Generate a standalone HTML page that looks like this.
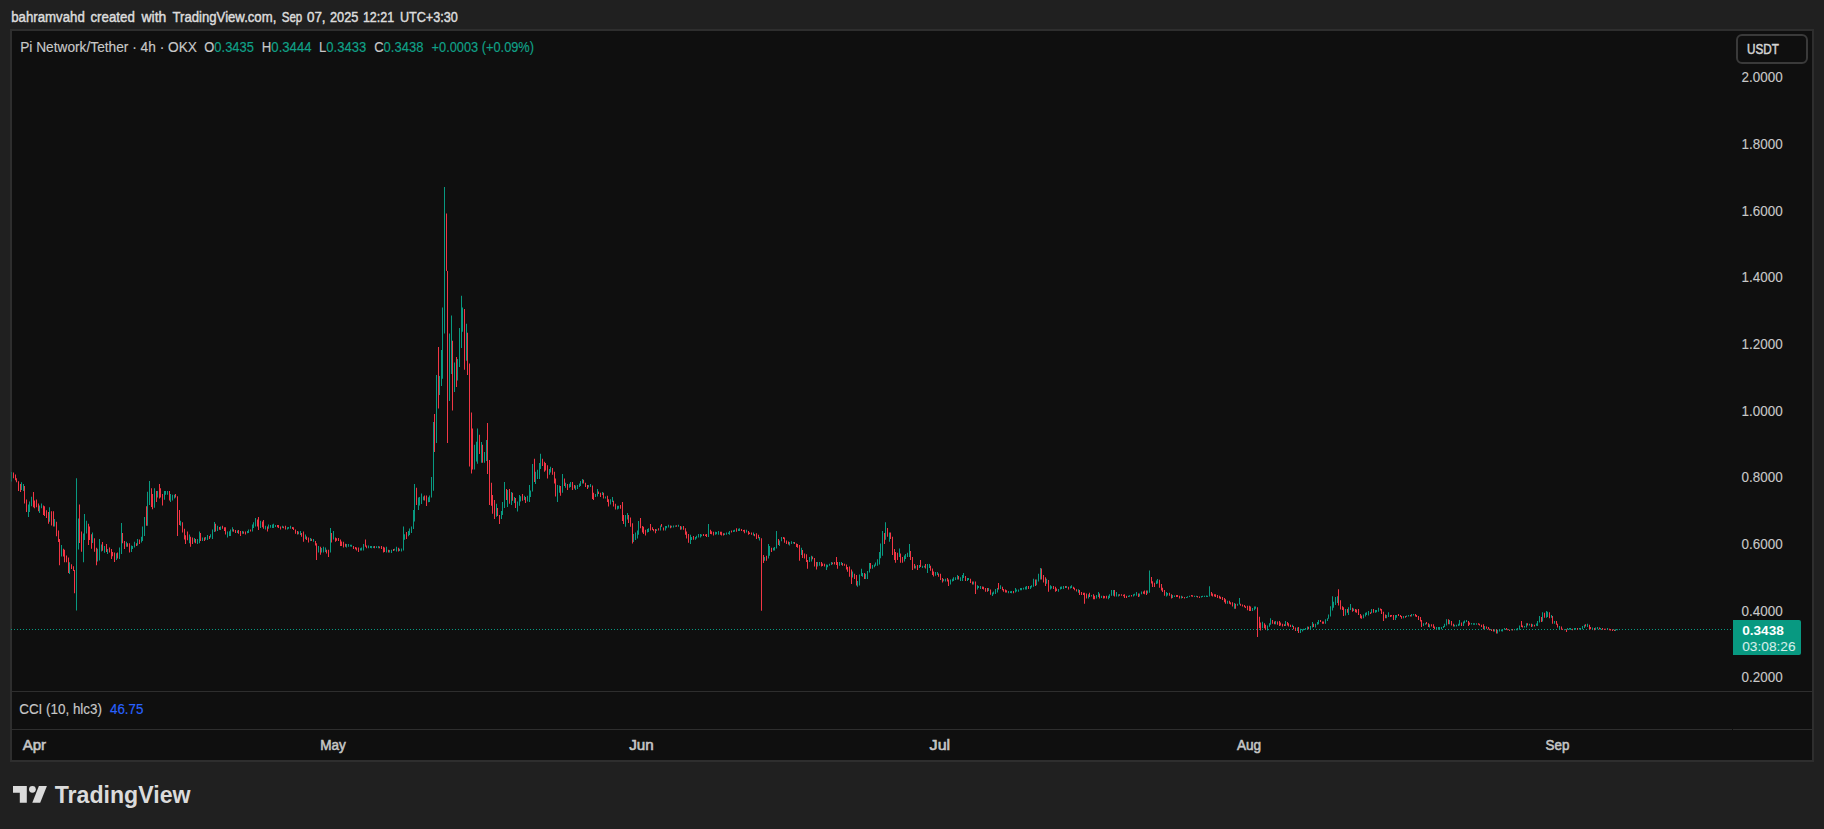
<!DOCTYPE html>
<html><head><meta charset="utf-8"><title>Pi Network/Tether chart</title>
<style>
html,body{margin:0;padding:0;background:#202020;width:1824px;height:829px;overflow:hidden;}
svg{position:absolute;left:0;top:0;display:block;}
.sans{font-family:"Liberation Sans","DejaVu Sans",sans-serif;}
.serif{font-family:"Liberation Serif","DejaVu Serif",serif;}
</style></head><body>
<svg width="1824" height="829" viewBox="0 0 1824 829">
<rect x="0" y="0" width="1824" height="829" fill="#202020"/>
<g class="sans" font-size="14" fill="#dcdcdc" stroke="#dcdcdc" stroke-width="0.45">
<text x="11.20" y="21.7" textLength="73.60" lengthAdjust="spacingAndGlyphs">bahramvahd</text>
<text x="90.48" y="21.7" textLength="44.32" lengthAdjust="spacingAndGlyphs">created</text>
<text x="141.50" y="21.7" textLength="24.80" lengthAdjust="spacingAndGlyphs">with</text>
<text x="172.48" y="21.7" textLength="103.84" lengthAdjust="spacingAndGlyphs">TradingView.com,</text>
<text x="281.70" y="21.7" textLength="20.60" lengthAdjust="spacingAndGlyphs">Sep</text>
<text x="306.94" y="21.7" textLength="18.66" lengthAdjust="spacingAndGlyphs">07,</text>
<text x="329.96" y="21.7" textLength="28.36" lengthAdjust="spacingAndGlyphs">2025</text>
<text x="362.92" y="21.7" textLength="31.36" lengthAdjust="spacingAndGlyphs">12:21</text>
<text x="399.92" y="21.7" textLength="57.88" lengthAdjust="spacingAndGlyphs">UTC+3:30</text>
</g>
<rect x="11" y="30" width="1802" height="731" fill="#0f0f0f" stroke="#2e2e2e" stroke-width="2"/>
<rect x="12" y="691" width="1800" height="1" fill="#2e2e2e"/>
<rect x="12" y="729" width="1720" height="1" fill="#2e2e2e"/>
<rect x="1733" y="729" width="79" height="1" fill="#2e2e2e"/>
<line x1="11" y1="629.5" x2="1732" y2="629.5" stroke="#089981" stroke-width="1" stroke-dasharray="1 2"/>
<path fill="#089981" d="M21 482.2h1v7.8h-1zM23 484.0h1v6.9h-1zM28 504.4h1v12.6h-1zM29 501.5h1v10.5h-1zM31 496.7h1v9.6h-1zM39 505.4h1v7.6h-1zM41 503.4h1v4.9h-1zM49 507.3h1v14.5h-1zM54 518.9h1v7.7h-1zM61 545.0h1v11.5h-1zM69 562.3h1v11.7h-1zM76 478.3h1v132.3h-1zM78 518.6h1v30.9h-1zM83 533.4h1v28.9h-1zM84 514.0h1v26.0h-1zM86 520.8h1v12.6h-1zM92 532.4h1v10.6h-1zM97 548.8h1v12.6h-1zM99 539.0h1v21.4h-1zM101 544.5h1v7.0h-1zM104 546.0h1v6.7h-1zM107 549.0h1v5.0h-1zM116 553.3h1v6.6h-1zM119 547.6h1v11.4h-1zM121 523.0h1v31.0h-1zM126 541.8h1v5.0h-1zM131 545.4h1v6.5h-1zM132 546.0h1v3.0h-1zM134 541.8h1v5.8h-1zM137 538.9h1v6.5h-1zM141 536.7h1v5.8h-1zM142 526.6h1v14.4h-1zM144 517.0h1v19.0h-1zM147 491.8h1v34.0h-1zM149 481.0h1v23.9h-1zM154 488.2h1v19.6h-1zM157 491.0h1v6.6h-1zM164 491.0h1v8.8h-1zM165 491.0h1v3.7h-1zM167 491.0h1v3.7h-1zM170 494.0h1v8.0h-1zM172 494.7h1v5.8h-1zM174 494.7h1v3.7h-1zM180 520.8h1v5.0h-1zM189 534.5h1v8.7h-1zM194 538.0h1v4.5h-1zM197 538.9h1v5.1h-1zM199 531.6h1v11.6h-1zM202 537.4h1v3.6h-1zM205 536.9h1v2.9h-1zM207 535.0h1v5.0h-1zM210 534.2h1v3.2h-1zM212 529.5h1v9.4h-1zM214 522.0h1v10.0h-1zM217 525.8h1v5.2h-1zM220 526.6h1v3.4h-1zM227 531.6h1v5.8h-1zM229 531.3h1v4.6h-1zM230 529.5h1v6.5h-1zM232 527.3h1v4.3h-1zM237 530.5h1v2.4h-1zM242 531.0h1v2.8h-1zM247 531.0h1v2.3h-1zM248 529.5h1v3.5h-1zM252 524.4h1v7.2h-1zM253 522.2h1v5.8h-1zM255 517.9h1v8.7h-1zM260 520.8h1v7.2h-1zM265 525.8h1v3.7h-1zM268 524.4h1v4.3h-1zM270 524.9h1v2.9h-1zM272 524.4h1v3.6h-1zM273 523.7h1v4.3h-1zM275 525.1h1v1.8h-1zM282 525.8h1v2.2h-1zM287 527.3h1v2.2h-1zM288 526.9h1v1.8h-1zM290 525.8h1v2.9h-1zM298 531.5h1v2.8h-1zM300 531.0h1v4.0h-1zM305 534.5h1v4.4h-1zM310 538.0h1v3.0h-1zM313 538.9h1v2.9h-1zM318 546.0h1v6.6h-1zM321 547.9h1v4.6h-1zM323 546.8h1v5.8h-1zM325 547.6h1v4.4h-1zM330 528.0h1v24.6h-1zM333 531.0h1v8.6h-1zM346 544.0h1v3.6h-1zM348 544.0h1v2.8h-1zM350 544.7h1v1.7h-1zM351 544.7h1v2.1h-1zM360 548.3h1v2.2h-1zM361 547.6h1v2.8h-1zM363 544.0h1v6.4h-1zM368 545.4h1v2.9h-1zM370 546.1h1v1.8h-1zM371 546.0h1v2.3h-1zM373 546.2h1v1.8h-1zM376 546.2h1v1.8h-1zM378 546.0h1v2.3h-1zM386 546.8h1v5.8h-1zM389 550.1h1v2.3h-1zM391 549.7h1v3.3h-1zM394 548.8h1v1.6h-1zM396 546.7h1v4.8h-1zM399 548.7h1v2.3h-1zM401 548.6h1v2.9h-1zM403 526.4h1v24.2h-1zM404 534.2h1v5.6h-1zM408 531.0h1v5.3h-1zM409 528.4h1v6.6h-1zM411 526.4h1v6.6h-1zM413 510.0h1v19.0h-1zM414 484.0h1v37.6h-1zM418 497.5h1v12.5h-1zM419 497.1h1v8.3h-1zM421 493.6h1v10.4h-1zM423 496.5h1v3.8h-1zM428 497.2h1v5.1h-1zM429 495.6h1v6.4h-1zM431 477.0h1v20.5h-1zM433 422.0h1v68.7h-1zM436 375.0h1v68.0h-1zM439 376.0h1v19.0h-1zM441 350.0h1v36.0h-1zM442 307.5h1v71.3h-1zM444 186.9h1v146.7h-1zM449 333.6h1v67.4h-1zM451 315.6h1v58.4h-1zM454 362.5h1v29.5h-1zM457 359.0h1v21.6h-1zM459 328.0h1v39.0h-1zM461 295.7h1v52.3h-1zM462 307.5h1v24.3h-1zM466 323.8h1v36.9h-1zM474 444.8h1v24.7h-1zM476 441.7h1v19.8h-1zM477 428.5h1v35.2h-1zM481 442.0h1v20.7h-1zM484 452.0h1v10.8h-1zM486 440.0h1v21.0h-1zM496 503.7h1v13.0h-1zM501 511.0h1v7.9h-1zM502 502.0h1v13.0h-1zM504 482.0h1v26.0h-1zM507 490.0h1v17.0h-1zM511 492.0h1v13.0h-1zM514 497.0h1v6.0h-1zM517 501.5h1v10.1h-1zM519 495.0h1v10.8h-1zM520 496.2h1v5.4h-1zM524 495.7h1v4.3h-1zM527 495.7h1v5.8h-1zM529 485.0h1v17.0h-1zM530 490.6h1v6.4h-1zM532 463.9h1v27.5h-1zM535 471.8h1v12.2h-1zM537 469.7h1v9.3h-1zM539 463.0h1v16.0h-1zM540 453.7h1v15.3h-1zM549 469.0h1v5.7h-1zM550 466.8h1v5.8h-1zM557 484.9h1v17.1h-1zM559 485.6h1v7.2h-1zM562 474.0h1v18.8h-1zM565 482.7h1v5.1h-1zM569 483.8h1v4.0h-1zM570 482.0h1v5.0h-1zM575 485.6h1v4.4h-1zM577 485.0h1v4.0h-1zM579 483.5h1v3.5h-1zM580 481.0h1v5.0h-1zM582 479.0h1v4.4h-1zM588 485.1h1v2.4h-1zM590 484.0h1v3.0h-1zM595 494.0h1v3.0h-1zM597 489.0h1v7.4h-1zM602 492.0h1v3.0h-1zM605 496.4h1v2.2h-1zM610 499.3h1v5.1h-1zM612 497.0h1v5.0h-1zM617 505.8h1v3.7h-1zM618 505.8h1v3.0h-1zM625 515.0h1v11.8h-1zM627 513.0h1v6.6h-1zM633 534.0h1v8.0h-1zM635 532.6h1v7.3h-1zM637 530.4h1v8.0h-1zM638 521.0h1v13.8h-1zM647 529.0h1v3.6h-1zM648 528.3h1v3.7h-1zM656 529.3h1v1.8h-1zM660 525.4h1v5.0h-1zM665 526.0h1v4.4h-1zM666 526.0h1v2.2h-1zM668 524.7h1v2.8h-1zM671 525.8h1v1.7h-1zM673 525.4h1v2.1h-1zM675 525.4h1v1.4h-1zM678 524.7h1v2.1h-1zM681 526.4h1v3.0h-1zM690 534.7h1v9.3h-1zM691 537.1h1v3.0h-1zM695 537.0h1v2.8h-1zM696 535.8h1v2.6h-1zM698 534.0h1v3.6h-1zM700 534.0h1v3.6h-1zM701 534.6h1v1.6h-1zM708 523.9h1v13.1h-1zM715 531.8h1v2.9h-1zM716 531.9h1v2.3h-1zM718 531.0h1v3.7h-1zM724 533.2h1v1.7h-1zM726 532.6h1v2.1h-1zM728 532.4h1v1.7h-1zM729 531.0h1v3.7h-1zM733 530.3h1v1.7h-1zM734 529.7h1v2.1h-1zM738 528.7h1v2.2h-1zM739 528.2h1v2.8h-1zM746 529.7h1v2.9h-1zM753 532.6h1v2.9h-1zM759 537.0h1v3.5h-1zM764 557.0h1v3.8h-1zM768 544.0h1v14.6h-1zM769 546.0h1v9.7h-1zM773 547.8h1v2.8h-1zM774 547.0h1v3.6h-1zM776 531.0h1v17.5h-1zM779 540.5h1v5.5h-1zM781 537.0h1v4.2h-1zM789 542.0h1v3.6h-1zM791 541.2h1v2.8h-1zM793 542.0h1v1.6h-1zM801 547.8h1v7.2h-1zM809 557.0h1v5.0h-1zM811 555.7h1v5.8h-1zM817 562.0h1v4.6h-1zM819 562.0h1v3.8h-1zM826 564.4h1v5.6h-1zM827 564.8h1v2.5h-1zM829 563.7h1v2.1h-1zM831 562.0h1v3.0h-1zM839 562.0h1v3.8h-1zM841 562.0h1v3.0h-1zM852 571.6h1v5.8h-1zM857 581.0h1v5.8h-1zM859 574.5h1v10.9h-1zM861 568.7h1v7.3h-1zM862 573.0h1v3.7h-1zM865 573.8h1v5.1h-1zM867 571.0h1v7.9h-1zM869 563.0h1v9.4h-1zM872 565.0h1v3.7h-1zM874 564.4h1v2.9h-1zM875 562.5h1v3.3h-1zM877 559.3h1v6.5h-1zM879 552.0h1v12.4h-1zM880 543.4h1v14.8h-1zM882 531.0h1v24.7h-1zM885 522.3h1v17.4h-1zM889 532.4h1v9.4h-1zM899 548.4h1v8.6h-1zM904 555.6h1v5.8h-1zM905 554.0h1v5.0h-1zM907 552.7h1v4.3h-1zM909 544.0h1v13.0h-1zM915 565.7h1v2.9h-1zM919 565.0h1v2.9h-1zM922 565.7h1v2.2h-1zM924 565.7h1v1.8h-1zM927 564.0h1v9.0h-1zM929 564.0h1v3.9h-1zM935 572.0h1v3.8h-1zM937 572.0h1v3.0h-1zM943 579.0h1v2.3h-1zM945 578.7h1v2.9h-1zM950 579.5h1v5.0h-1zM952 578.7h1v2.9h-1zM953 577.3h1v3.7h-1zM955 577.3h1v2.7h-1zM957 575.0h1v4.5h-1zM960 577.3h1v3.7h-1zM962 575.0h1v6.0h-1zM963 573.0h1v5.0h-1zM967 578.0h1v3.0h-1zM968 578.0h1v2.0h-1zM973 581.6h1v2.9h-1zM977 585.3h1v4.3h-1zM978 586.0h1v2.0h-1zM980 586.0h1v2.9h-1zM988 588.0h1v3.0h-1zM992 592.5h1v3.5h-1zM993 591.5h1v2.8h-1zM995 588.9h1v5.1h-1zM997 588.0h1v4.5h-1zM1000 585.3h1v3.6h-1zM1008 591.0h1v2.2h-1zM1010 591.2h1v1.8h-1zM1011 591.0h1v2.2h-1zM1015 588.0h1v4.5h-1zM1016 589.6h1v1.8h-1zM1018 589.6h1v2.2h-1zM1020 588.0h1v2.3h-1zM1021 588.0h1v2.3h-1zM1023 587.7h1v1.8h-1zM1025 586.7h1v2.9h-1zM1026 586.0h1v3.6h-1zM1030 586.0h1v2.9h-1zM1031 585.3h1v2.1h-1zM1033 578.7h1v8.0h-1zM1036 579.5h1v5.8h-1zM1038 573.7h1v7.9h-1zM1040 567.9h1v11.6h-1zM1046 578.7h1v5.1h-1zM1050 585.3h1v4.3h-1zM1051 586.3h1v2.3h-1zM1058 588.9h1v2.9h-1zM1060 586.7h1v2.9h-1zM1061 586.6h1v2.3h-1zM1063 586.0h1v2.9h-1zM1066 586.0h1v2.0h-1zM1070 586.3h1v2.2h-1zM1071 585.3h1v2.7h-1zM1078 589.2h1v3.6h-1zM1088 594.3h1v4.3h-1zM1091 595.0h1v1.4h-1zM1096 595.0h1v3.6h-1zM1098 592.0h1v5.0h-1zM1101 595.7h1v2.3h-1zM1108 595.7h1v3.6h-1zM1109 594.3h1v3.7h-1zM1111 590.0h1v5.7h-1zM1113 590.0h1v5.7h-1zM1116 592.0h1v4.4h-1zM1118 594.3h1v2.1h-1zM1128 595.7h1v1.3h-1zM1129 595.3h1v1.5h-1zM1133 594.3h1v2.1h-1zM1134 593.8h1v1.7h-1zM1136 592.0h1v3.7h-1zM1139 593.5h1v2.9h-1zM1141 591.4h1v2.9h-1zM1147 590.6h1v2.9h-1zM1149 570.4h1v22.4h-1zM1156 580.5h1v3.5h-1zM1157 579.0h1v4.4h-1zM1166 592.0h1v4.4h-1zM1167 593.1h1v2.3h-1zM1172 595.0h1v3.0h-1zM1174 595.5h1v1.6h-1zM1181 595.7h1v2.9h-1zM1186 597.0h1v1.0h-1zM1187 596.2h1v1.5h-1zM1189 595.7h1v1.3h-1zM1194 595.7h1v1.3h-1zM1196 595.7h1v1.3h-1zM1201 596.0h1v1.5h-1zM1202 595.7h1v1.3h-1zM1204 595.7h1v1.3h-1zM1206 595.6h1v1.5h-1zM1207 595.7h1v1.3h-1zM1209 586.3h1v10.1h-1zM1227 600.8h1v2.9h-1zM1234 603.0h1v5.7h-1zM1237 603.7h1v2.1h-1zM1239 598.0h1v6.4h-1zM1252 608.0h1v3.0h-1zM1254 606.6h1v3.6h-1zM1255 606.6h1v2.1h-1zM1262 621.8h1v6.5h-1zM1267 625.4h1v5.0h-1zM1269 623.2h1v3.6h-1zM1270 618.2h1v6.6h-1zM1275 621.0h1v3.3h-1zM1285 621.0h1v5.0h-1zM1292 624.8h1v2.2h-1zM1297 627.6h1v3.3h-1zM1300 628.7h1v4.3h-1zM1302 629.2h1v2.2h-1zM1303 628.7h1v1.6h-1zM1305 628.0h1v1.8h-1zM1307 626.5h1v3.3h-1zM1310 626.0h1v3.8h-1zM1312 622.0h1v5.6h-1zM1315 623.7h1v3.9h-1zM1317 622.0h1v2.8h-1zM1318 619.9h1v4.4h-1zM1325 619.3h1v4.4h-1zM1327 618.2h1v2.8h-1zM1328 614.4h1v4.4h-1zM1330 606.2h1v10.4h-1zM1332 596.3h1v14.3h-1zM1333 601.8h1v6.0h-1zM1335 596.9h1v8.1h-1zM1337 596.3h1v6.6h-1zM1345 608.9h1v6.6h-1zM1348 607.3h1v7.7h-1zM1350 604.0h1v6.0h-1zM1353 608.4h1v2.7h-1zM1363 614.4h1v3.8h-1zM1365 612.8h1v3.8h-1zM1366 612.2h1v2.8h-1zM1368 611.1h1v4.4h-1zM1371 608.9h1v4.4h-1zM1375 610.0h1v2.8h-1zM1376 610.0h1v2.2h-1zM1378 607.8h1v3.9h-1zM1386 615.0h1v3.2h-1zM1388 612.2h1v4.9h-1zM1395 615.0h1v4.9h-1zM1396 615.0h1v2.7h-1zM1403 616.0h1v2.2h-1zM1406 615.5h1v1.6h-1zM1408 615.0h1v1.6h-1zM1411 613.9h1v2.7h-1zM1413 613.9h1v1.6h-1zM1423 623.2h1v2.8h-1zM1425 623.2h1v1.6h-1zM1429 624.3h1v3.3h-1zM1436 627.0h1v2.8h-1zM1438 627.0h1v2.8h-1zM1439 627.0h1v2.2h-1zM1441 627.0h1v2.2h-1zM1443 626.0h1v2.0h-1zM1444 623.7h1v3.3h-1zM1446 619.3h1v6.1h-1zM1449 619.9h1v4.4h-1zM1454 624.8h1v1.7h-1zM1456 624.8h1v1.7h-1zM1458 623.7h1v2.3h-1zM1459 619.9h1v5.5h-1zM1463 621.5h1v4.5h-1zM1464 620.4h1v2.8h-1zM1466 619.9h1v2.1h-1zM1471 623.1h1v1.5h-1zM1473 623.2h1v1.6h-1zM1474 623.2h1v1.5h-1zM1476 623.2h1v1.6h-1zM1484 626.0h1v3.8h-1zM1494 629.2h1v2.2h-1zM1497 629.8h1v3.8h-1zM1499 629.2h1v2.2h-1zM1501 629.4h1v1.8h-1zM1502 629.2h1v2.2h-1zM1504 628.0h1v1.8h-1zM1511 629.2h1v1.1h-1zM1514 629.2h1v1.1h-1zM1516 628.7h1v1.6h-1zM1517 628.0h1v2.3h-1zM1519 625.4h1v4.4h-1zM1524 626.0h1v1.6h-1zM1526 623.2h1v4.4h-1zM1529 623.7h1v1.7h-1zM1532 624.3h1v2.2h-1zM1536 623.5h1v2.2h-1zM1537 621.0h1v5.0h-1zM1539 616.0h1v6.6h-1zM1542 612.2h1v9.3h-1zM1546 611.1h1v6.6h-1zM1547 611.7h1v5.4h-1zM1551 615.0h1v2.7h-1zM1554 621.0h1v2.7h-1zM1559 626.0h1v3.8h-1zM1564 629.2h1v1.0h-1zM1567 628.0h1v1.8h-1zM1569 628.1h1v1.5h-1zM1570 628.0h1v1.8h-1zM1574 628.0h1v1.8h-1zM1575 628.0h1v1.8h-1zM1579 628.1h1v1.5h-1zM1580 628.0h1v1.8h-1zM1582 626.0h1v3.2h-1zM1584 624.8h1v3.2h-1zM1587 623.7h1v3.3h-1zM1592 627.6h1v2.2h-1zM1595 627.6h1v1.6h-1zM1597 627.0h1v2.2h-1zM1600 627.9h1v1.5h-1zM1607 628.0h1v1.8h-1zM1615 629.2h1v1.7h-1zM1617 629.2h1v1.0h-1z"/>
<path fill="#f23645" d="M13 472.5h1v5.8h-1zM15 474.5h1v5.8h-1zM16 478.3h1v3.9h-1zM18 481.2h1v9.7h-1zM20 484.0h1v7.9h-1zM24 486.0h1v17.4h-1zM26 499.6h1v12.4h-1zM33 491.9h1v15.4h-1zM34 500.5h1v7.8h-1zM36 499.6h1v7.7h-1zM38 503.4h1v7.8h-1zM43 505.4h1v9.6h-1zM44 506.3h1v9.7h-1zM46 510.2h1v7.8h-1zM48 512.0h1v11.7h-1zM51 511.2h1v14.4h-1zM53 511.2h1v15.4h-1zM56 521.8h1v14.5h-1zM58 530.5h1v11.5h-1zM59 539.0h1v26.2h-1zM63 548.8h1v7.7h-1zM64 549.8h1v12.5h-1zM66 555.6h1v6.7h-1zM68 557.5h1v15.5h-1zM71 564.2h1v4.8h-1zM73 566.2h1v4.8h-1zM74 570.0h1v23.2h-1zM79 504.4h1v38.6h-1zM81 531.4h1v20.3h-1zM88 523.7h1v21.3h-1zM89 526.6h1v13.4h-1zM91 534.3h1v14.5h-1zM94 538.2h1v13.5h-1zM96 547.8h1v17.4h-1zM102 542.0h1v8.7h-1zM106 544.0h1v7.9h-1zM109 547.6h1v5.0h-1zM111 549.0h1v10.0h-1zM112 551.9h1v4.3h-1zM114 552.6h1v9.4h-1zM117 552.6h1v5.8h-1zM122 533.0h1v10.2h-1zM124 541.0h1v8.0h-1zM127 543.2h1v3.6h-1zM129 543.2h1v9.4h-1zM136 543.2h1v2.8h-1zM139 539.6h1v4.4h-1zM146 506.3h1v19.5h-1zM151 488.2h1v18.8h-1zM152 494.0h1v15.2h-1zM156 491.0h1v11.0h-1zM159 483.9h1v14.5h-1zM160 488.2h1v9.4h-1zM162 494.0h1v11.6h-1zM169 491.0h1v9.5h-1zM175 494.0h1v3.6h-1zM177 496.2h1v39.8h-1zM179 510.0h1v15.0h-1zM182 522.2h1v10.2h-1zM184 528.7h1v10.9h-1zM185 535.3h1v8.7h-1zM187 531.6h1v8.7h-1zM190 536.7h1v10.1h-1zM192 537.4h1v6.6h-1zM195 538.9h1v4.3h-1zM200 533.0h1v8.0h-1zM204 537.4h1v3.6h-1zM209 536.0h1v2.9h-1zM215 523.7h1v7.9h-1zM219 527.0h1v2.7h-1zM222 525.8h1v2.9h-1zM224 527.2h1v3.7h-1zM225 527.3h1v7.2h-1zM233 529.3h1v2.4h-1zM235 530.0h1v3.0h-1zM238 530.0h1v3.8h-1zM240 531.0h1v5.0h-1zM243 531.6h1v2.2h-1zM245 531.6h1v2.9h-1zM250 529.5h1v2.1h-1zM257 519.4h1v7.0h-1zM258 517.0h1v13.0h-1zM262 521.5h1v5.8h-1zM263 520.0h1v8.7h-1zM267 526.6h1v5.0h-1zM277 525.0h1v2.3h-1zM278 525.0h1v3.0h-1zM280 526.6h1v2.9h-1zM283 526.4h1v1.8h-1zM285 525.8h1v3.7h-1zM292 526.9h1v2.2h-1zM293 527.3h1v2.7h-1zM295 529.5h1v4.3h-1zM297 531.0h1v3.5h-1zM301 533.0h1v3.7h-1zM303 531.6h1v10.2h-1zM306 536.6h1v3.5h-1zM308 537.4h1v5.1h-1zM311 538.8h1v2.3h-1zM315 541.0h1v4.4h-1zM316 543.2h1v16.7h-1zM320 546.8h1v8.0h-1zM326 549.8h1v3.6h-1zM328 549.7h1v7.3h-1zM331 533.0h1v9.5h-1zM335 537.4h1v4.4h-1zM336 538.3h1v2.4h-1zM338 538.0h1v3.0h-1zM340 539.6h1v6.4h-1zM341 541.4h1v4.6h-1zM343 541.8h1v5.8h-1zM345 543.8h1v2.9h-1zM353 546.0h1v3.0h-1zM355 547.1h1v2.2h-1zM356 547.6h1v2.8h-1zM358 547.6h1v4.4h-1zM365 539.6h1v7.2h-1zM366 545.4h1v2.9h-1zM374 546.0h1v2.3h-1zM379 546.4h1v1.8h-1zM381 546.0h1v3.0h-1zM383 546.8h1v5.8h-1zM384 547.4h1v4.6h-1zM388 549.7h1v2.9h-1zM393 549.0h1v2.0h-1zM398 547.7h1v3.8h-1zM406 532.0h1v7.0h-1zM416 487.8h1v17.2h-1zM424 495.6h1v4.8h-1zM426 495.6h1v10.4h-1zM434 414.0h1v38.0h-1zM438 347.0h1v61.6h-1zM446 213.5h1v57.5h-1zM447 271.0h1v172.0h-1zM452 340.8h1v69.6h-1zM456 357.0h1v30.0h-1zM464 309.0h1v60.7h-1zM467 332.7h1v42.3h-1zM469 363.4h1v103.2h-1zM471 412.5h1v60.9h-1zM472 428.5h1v41.0h-1zM479 434.8h1v19.2h-1zM482 444.8h1v18.0h-1zM487 423.0h1v51.0h-1zM489 460.0h1v45.0h-1zM491 482.7h1v23.1h-1zM492 495.0h1v18.8h-1zM494 500.0h1v18.9h-1zM497 508.0h1v8.0h-1zM499 515.0h1v9.0h-1zM506 489.0h1v11.0h-1zM509 489.0h1v14.7h-1zM512 492.8h1v8.0h-1zM515 498.0h1v10.0h-1zM522 494.0h1v6.8h-1zM525 497.0h1v6.0h-1zM534 458.8h1v23.2h-1zM542 458.8h1v7.2h-1zM544 461.7h1v10.1h-1zM545 463.0h1v7.4h-1zM547 465.3h1v13.1h-1zM552 468.0h1v6.7h-1zM554 471.8h1v11.6h-1zM555 478.4h1v18.0h-1zM560 486.0h1v9.7h-1zM564 478.4h1v7.6h-1zM567 484.0h1v6.0h-1zM572 482.0h1v8.0h-1zM574 485.1h1v3.5h-1zM583 479.8h1v3.6h-1zM585 482.7h1v4.3h-1zM587 485.0h1v4.0h-1zM592 485.6h1v13.4h-1zM593 492.8h1v7.2h-1zM598 491.4h1v2.6h-1zM600 492.8h1v4.2h-1zM603 492.8h1v5.8h-1zM607 495.7h1v6.3h-1zM608 499.3h1v7.3h-1zM613 500.8h1v5.8h-1zM615 503.7h1v5.8h-1zM620 505.0h1v3.7h-1zM622 502.0h1v19.0h-1zM623 515.0h1v9.0h-1zM628 515.0h1v8.0h-1zM630 517.4h1v9.4h-1zM632 523.2h1v20.3h-1zM640 518.0h1v10.3h-1zM642 526.0h1v6.6h-1zM643 526.8h1v7.2h-1zM645 529.7h1v5.8h-1zM650 524.0h1v6.4h-1zM652 527.2h1v2.9h-1zM653 529.0h1v2.2h-1zM655 529.0h1v4.3h-1zM658 528.3h1v2.1h-1zM661 524.0h1v2.8h-1zM663 527.5h1v2.9h-1zM670 525.4h1v2.9h-1zM676 525.2h1v1.5h-1zM680 526.0h1v3.7h-1zM683 526.0h1v3.7h-1zM685 528.2h1v6.5h-1zM686 531.5h1v6.9h-1zM688 534.0h1v8.7h-1zM693 536.0h1v3.8h-1zM703 534.0h1v2.0h-1zM705 534.5h1v1.6h-1zM706 534.0h1v3.0h-1zM710 529.7h1v4.3h-1zM711 531.3h1v3.0h-1zM713 531.8h1v3.7h-1zM720 531.8h1v3.0h-1zM721 531.8h1v3.7h-1zM723 533.3h1v2.2h-1zM731 530.4h1v2.2h-1zM736 528.2h1v3.6h-1zM741 529.0h1v2.0h-1zM743 530.0h1v1.6h-1zM744 529.7h1v3.6h-1zM748 531.0h1v3.7h-1zM749 532.4h1v1.7h-1zM751 532.6h1v2.1h-1zM754 533.9h1v2.3h-1zM756 533.3h1v5.7h-1zM758 534.7h1v3.6h-1zM761 538.3h1v72.4h-1zM763 555.0h1v8.0h-1zM766 555.7h1v5.1h-1zM771 547.8h1v4.2h-1zM778 539.0h1v5.9h-1zM783 537.0h1v2.0h-1zM784 537.6h1v5.1h-1zM786 540.5h1v3.5h-1zM788 541.6h1v2.8h-1zM794 542.0h1v2.0h-1zM796 543.4h1v3.6h-1zM797 544.0h1v3.8h-1zM799 544.9h1v15.9h-1zM802 550.0h1v7.9h-1zM804 553.5h1v5.1h-1zM806 554.3h1v7.7h-1zM807 560.0h1v8.7h-1zM812 556.4h1v2.9h-1zM814 557.9h1v8.7h-1zM816 562.0h1v7.5h-1zM821 562.0h1v4.6h-1zM822 563.6h1v2.3h-1zM824 563.7h1v2.9h-1zM832 562.4h1v1.9h-1zM834 562.0h1v2.4h-1zM836 557.0h1v8.0h-1zM837 562.0h1v6.7h-1zM842 563.0h1v2.8h-1zM844 563.7h1v2.1h-1zM846 564.4h1v5.1h-1zM847 567.0h1v4.7h-1zM849 566.6h1v10.1h-1zM851 569.5h1v14.5h-1zM854 573.8h1v5.1h-1zM856 575.0h1v10.4h-1zM864 573.0h1v5.9h-1zM870 563.0h1v5.7h-1zM884 533.0h1v11.0h-1zM887 528.0h1v8.8h-1zM890 532.4h1v6.6h-1zM892 536.8h1v18.1h-1zM894 549.0h1v11.0h-1zM895 552.0h1v10.8h-1zM897 552.7h1v7.3h-1zM900 553.4h1v9.4h-1zM902 557.0h1v5.8h-1zM910 551.0h1v9.0h-1zM912 557.0h1v13.0h-1zM914 564.0h1v4.6h-1zM917 565.0h1v5.0h-1zM920 560.0h1v7.0h-1zM925 564.0h1v4.6h-1zM930 565.7h1v5.1h-1zM932 568.6h1v6.4h-1zM933 571.5h1v5.1h-1zM938 573.5h1v3.3h-1zM940 573.7h1v6.3h-1zM942 578.0h1v4.4h-1zM947 578.0h1v3.6h-1zM948 579.5h1v6.5h-1zM958 576.0h1v3.5h-1zM965 576.0h1v5.0h-1zM970 578.7h1v4.3h-1zM972 581.6h1v2.9h-1zM975 581.6h1v12.4h-1zM982 586.6h1v2.3h-1zM983 586.7h1v2.9h-1zM985 588.0h1v3.8h-1zM987 588.0h1v3.8h-1zM990 589.6h1v5.1h-1zM998 583.0h1v6.6h-1zM1002 586.7h1v3.6h-1zM1003 588.9h1v2.9h-1zM1005 589.6h1v2.9h-1zM1006 590.3h1v2.2h-1zM1013 591.0h1v2.2h-1zM1028 586.0h1v2.9h-1zM1035 579.5h1v6.5h-1zM1041 568.6h1v10.9h-1zM1043 575.0h1v7.4h-1zM1045 577.3h1v8.7h-1zM1048 580.0h1v11.8h-1zM1053 586.0h1v2.9h-1zM1055 586.7h1v5.1h-1zM1056 588.6h1v2.3h-1zM1065 586.0h1v2.0h-1zM1068 586.7h1v2.9h-1zM1073 586.7h1v2.2h-1zM1074 587.8h1v2.5h-1zM1076 589.2h1v2.2h-1zM1079 590.0h1v5.0h-1zM1081 592.0h1v3.0h-1zM1083 592.8h1v2.2h-1zM1084 592.8h1v10.9h-1zM1086 593.5h1v5.1h-1zM1089 592.8h1v4.2h-1zM1093 594.3h1v5.0h-1zM1094 595.7h1v3.6h-1zM1099 593.5h1v5.1h-1zM1103 595.7h1v2.9h-1zM1104 596.0h1v2.3h-1zM1106 595.7h1v2.9h-1zM1114 590.0h1v6.4h-1zM1119 594.3h1v1.4h-1zM1121 594.3h1v1.4h-1zM1123 594.8h1v1.5h-1zM1124 594.3h1v3.7h-1zM1126 595.7h1v2.3h-1zM1131 595.0h1v1.4h-1zM1138 593.5h1v3.5h-1zM1143 591.5h1v2.3h-1zM1144 590.6h1v3.7h-1zM1146 590.6h1v4.4h-1zM1151 577.0h1v6.4h-1zM1152 581.2h1v5.8h-1zM1154 582.7h1v4.3h-1zM1159 579.8h1v8.0h-1zM1161 584.0h1v6.6h-1zM1162 587.8h1v4.2h-1zM1164 590.0h1v5.7h-1zM1169 592.8h1v2.9h-1zM1171 594.3h1v4.3h-1zM1176 595.0h1v2.0h-1zM1177 595.0h1v2.0h-1zM1179 595.7h1v2.9h-1zM1182 596.4h1v1.6h-1zM1184 597.0h1v1.6h-1zM1191 595.0h1v1.4h-1zM1192 595.3h1v1.5h-1zM1197 596.0h1v1.5h-1zM1199 596.4h1v1.6h-1zM1211 592.0h1v3.7h-1zM1212 593.5h1v2.9h-1zM1214 594.2h1v2.2h-1zM1215 594.3h1v2.7h-1zM1217 595.0h1v3.0h-1zM1219 595.7h1v2.9h-1zM1220 596.7h1v2.3h-1zM1222 597.0h1v3.0h-1zM1224 598.0h1v4.2h-1zM1225 599.3h1v4.4h-1zM1229 600.8h1v2.9h-1zM1230 602.2h1v2.3h-1zM1232 602.2h1v4.4h-1zM1235 603.7h1v5.0h-1zM1240 603.7h1v2.1h-1zM1242 604.4h1v2.2h-1zM1244 605.0h1v2.3h-1zM1245 606.2h1v1.8h-1zM1247 605.8h1v4.4h-1zM1249 605.8h1v5.2h-1zM1250 606.6h1v4.4h-1zM1257 607.3h1v29.7h-1zM1259 616.7h1v11.6h-1zM1260 622.5h1v7.9h-1zM1264 623.2h1v5.1h-1zM1265 624.7h1v5.0h-1zM1272 619.9h1v3.8h-1zM1274 621.5h1v2.8h-1zM1277 621.5h1v3.3h-1zM1279 621.0h1v5.0h-1zM1280 622.6h1v2.8h-1zM1282 623.7h1v2.8h-1zM1284 624.3h1v1.7h-1zM1287 622.0h1v3.4h-1zM1288 623.2h1v3.3h-1zM1290 624.8h1v2.2h-1zM1293 626.0h1v3.2h-1zM1295 627.6h1v3.3h-1zM1298 627.0h1v6.0h-1zM1308 626.7h1v2.6h-1zM1313 623.7h1v3.3h-1zM1320 619.9h1v2.1h-1zM1322 621.5h1v2.2h-1zM1323 621.5h1v2.2h-1zM1338 589.2h1v16.4h-1zM1340 600.2h1v9.3h-1zM1342 606.2h1v3.8h-1zM1343 607.3h1v8.7h-1zM1347 608.9h1v3.9h-1zM1352 607.8h1v3.9h-1zM1355 608.9h1v3.3h-1zM1356 609.5h1v3.3h-1zM1358 608.9h1v6.1h-1zM1360 613.9h1v4.3h-1zM1361 615.5h1v3.3h-1zM1370 612.2h1v1.7h-1zM1373 608.9h1v3.9h-1zM1380 608.4h1v2.2h-1zM1381 608.9h1v5.0h-1zM1383 611.7h1v9.3h-1zM1385 614.4h1v3.8h-1zM1390 615.0h1v2.1h-1zM1391 615.0h1v1.6h-1zM1393 615.0h1v4.9h-1zM1398 613.9h1v2.1h-1zM1400 615.0h1v2.1h-1zM1401 616.0h1v2.8h-1zM1405 616.0h1v1.7h-1zM1410 615.0h1v1.6h-1zM1415 613.9h1v2.7h-1zM1416 615.0h1v2.1h-1zM1418 616.0h1v3.9h-1zM1420 617.1h1v4.4h-1zM1421 619.9h1v7.1h-1zM1426 622.0h1v2.3h-1zM1428 623.2h1v3.8h-1zM1431 624.3h1v2.2h-1zM1433 624.3h1v3.7h-1zM1434 626.5h1v2.7h-1zM1448 619.3h1v5.0h-1zM1451 621.0h1v4.4h-1zM1453 623.7h1v2.8h-1zM1461 622.6h1v3.4h-1zM1468 621.0h1v5.0h-1zM1469 622.6h1v2.2h-1zM1478 623.2h1v1.6h-1zM1479 623.7h1v1.7h-1zM1481 624.8h1v2.2h-1zM1483 624.3h1v4.9h-1zM1486 626.5h1v2.2h-1zM1488 627.0h1v2.2h-1zM1489 628.7h1v1.6h-1zM1491 629.2h1v1.7h-1zM1493 629.2h1v2.2h-1zM1496 629.2h1v4.4h-1zM1506 628.0h1v1.8h-1zM1507 629.2h1v1.1h-1zM1509 629.8h1v1.1h-1zM1512 629.0h1v1.5h-1zM1521 621.0h1v6.0h-1zM1522 625.4h1v2.2h-1zM1527 623.2h1v2.2h-1zM1531 623.7h1v3.3h-1zM1534 624.8h1v1.7h-1zM1541 617.1h1v4.9h-1zM1544 612.8h1v4.9h-1zM1549 612.2h1v6.0h-1zM1552 616.0h1v7.7h-1zM1556 621.0h1v3.8h-1zM1557 623.7h1v3.9h-1zM1561 626.5h1v3.3h-1zM1562 628.7h1v1.1h-1zM1566 629.2h1v2.8h-1zM1572 628.7h1v1.6h-1zM1577 628.0h1v1.8h-1zM1585 624.3h1v2.2h-1zM1589 624.8h1v4.4h-1zM1590 627.0h1v2.2h-1zM1594 628.0h1v2.3h-1zM1599 627.6h1v1.6h-1zM1602 628.0h1v1.8h-1zM1604 628.7h1v1.1h-1zM1605 628.7h1v1.1h-1zM1609 628.7h1v1.6h-1zM1610 629.0h1v1.5h-1zM1612 629.2h1v1.7h-1zM1614 629.8h1v1.1h-1z"/><path fill="#089981" opacity="0.6" d="M11 472.0h1v9.6h-1z"/>
<g class="sans" font-size="14" fill="#c8c8c8" stroke="#c8c8c8" stroke-width="0.15">
<text x="20.2" y="51.8" textLength="176.8" lengthAdjust="spacingAndGlyphs">Pi Network/Tether · 4h · OKX</text>
<text x="204.3" y="51.8" textLength="49.6" lengthAdjust="spacingAndGlyphs">O<tspan fill="#10a188" stroke="#10a188">0.3435</tspan></text>
<text x="261.8" y="51.8" textLength="49.8" lengthAdjust="spacingAndGlyphs">H<tspan fill="#10a188" stroke="#10a188">0.3444</tspan></text>
<text x="319" y="51.8" textLength="47.2" lengthAdjust="spacingAndGlyphs">L<tspan fill="#10a188" stroke="#10a188">0.3433</tspan></text>
<text x="374.2" y="51.8" textLength="49.2" lengthAdjust="spacingAndGlyphs">C<tspan fill="#10a188" stroke="#10a188">0.3438</tspan></text>
<text x="431.6" y="51.8" fill="#10a188" stroke="#10a188" textLength="102.4" lengthAdjust="spacingAndGlyphs">+0.0003 (+0.09%)</text>
<text x="19.2" y="713.9" textLength="82.8" lengthAdjust="spacingAndGlyphs">CCI (10, hlc3)</text>
<text x="110" y="713.9" fill="#2962ff" stroke="#2962ff" textLength="33.4" lengthAdjust="spacingAndGlyphs">46.75</text>
</g>
<g class="sans" font-size="14" fill="#c6c6c6" stroke="#c6c6c6" stroke-width="0.55">
<text x="22.7" y="750" textLength="23.4" lengthAdjust="spacingAndGlyphs">Apr</text>
<text x="320.2" y="750" textLength="25.6" lengthAdjust="spacingAndGlyphs">May</text>
<text x="629.2" y="750" textLength="24.5" lengthAdjust="spacingAndGlyphs">Jun</text>
<text x="929.6" y="750" textLength="20.6" lengthAdjust="spacingAndGlyphs">Jul</text>
<text x="1236.9" y="750" textLength="24.2" lengthAdjust="spacingAndGlyphs">Aug</text>
<text x="1545.6" y="750" textLength="23.8" lengthAdjust="spacingAndGlyphs">Sep</text>
</g>
<rect x="1737" y="35" width="70" height="28" rx="5" ry="5" fill="#0f0f0f" stroke="#3a3a3a" stroke-width="2"/>
<text class="sans" x="1747" y="54" font-size="13.8" fill="#d4d4d4" stroke="#d4d4d4" stroke-width="0.5" textLength="31.8" lengthAdjust="spacingAndGlyphs">USDT</text>
<g class="sans" font-size="14" fill="#c8c8c8" stroke="#c8c8c8" stroke-width="0.1">
<text x="1741.6" y="82.17" textLength="41.2" lengthAdjust="spacingAndGlyphs">2.0000</text>
<text x="1741.6" y="148.86" textLength="41.2" lengthAdjust="spacingAndGlyphs">1.8000</text>
<text x="1741.6" y="215.55" textLength="41.2" lengthAdjust="spacingAndGlyphs">1.6000</text>
<text x="1741.6" y="282.24" textLength="41.2" lengthAdjust="spacingAndGlyphs">1.4000</text>
<text x="1741.6" y="348.93" textLength="41.2" lengthAdjust="spacingAndGlyphs">1.2000</text>
<text x="1741.6" y="415.62" textLength="41.2" lengthAdjust="spacingAndGlyphs">1.0000</text>
<text x="1741.6" y="482.31" textLength="41.2" lengthAdjust="spacingAndGlyphs">0.8000</text>
<text x="1741.6" y="549.00" textLength="41.2" lengthAdjust="spacingAndGlyphs">0.6000</text>
<text x="1741.6" y="615.69" textLength="41.2" lengthAdjust="spacingAndGlyphs">0.4000</text>
<text x="1741.6" y="682.38" textLength="41.2" lengthAdjust="spacingAndGlyphs">0.2000</text>
</g>
<path d="M1733 620H1799a2 2 0 0 1 2 2V653a2 2 0 0 1 -2 2H1733Z" fill="#089981"/>
<g class="sans" font-size="13.5">
<text x="1742.2" y="634.9" fill="#ffffff" font-weight="bold" textLength="41.6" lengthAdjust="spacingAndGlyphs">0.3438</text>
<text x="1742.2" y="650.8" fill="#d3ede8" stroke="#d3ede8" stroke-width="0.1" textLength="53.4" lengthAdjust="spacingAndGlyphs">03:08:26</text>
</g>
<g fill="#dbdbdb">
<path d="M13 785.9H26.8V802.8H19.8V792.85H13Z"/>
<circle cx="32.4" cy="789.3" r="3.4"/>
<path d="M38.9 785.9H46.9L40.2 802.8H32.3Z"/>
</g>
<text class="sans" x="54.7" y="803" font-size="24" font-weight="bold" fill="#dbdbdb" textLength="135.8" lengthAdjust="spacingAndGlyphs">TradingView</text>
</svg>
</body></html>
